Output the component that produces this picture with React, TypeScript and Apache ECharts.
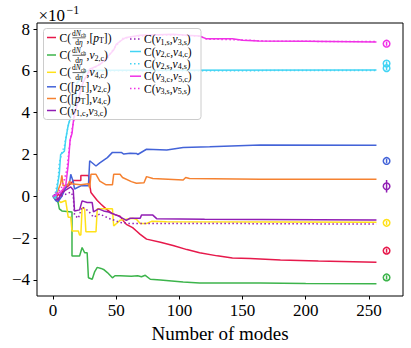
import React, { useEffect, useRef } from "react";
import * as echarts from "echarts";

// ---------- data (values in units of 1e-1) ----------
const xTicks = [0, 50, 100, 150, 200, 250];
const yTicks = [-4, -2, 0, 2, 4, 6, 8];

const redNchPt: number[][] = [[0,0],[2,-0.1],[4,0.1],[6,0.0],[8,0.3],[10,0.4],[12,0.5],[14,0.6],[16,0.75],[22,0.75],[22,1.0],[28,1.0],[29,0.57],[30,0.18],[35,-0.2],[38,-0.38],[42,-0.6],[47,-0.84],[53,-0.95],[56,-1.2],[58,-1.34],[63,-1.5],[66,-1.66],[69,-1.82],[74,-2.05],[85,-2.2],[95,-2.35],[106,-2.55],[116,-2.7],[130,-2.85],[142,-2.95],[156,-2.98],[180,-3.05],[210,-3.1],[256,-3.16]];
const greenNchV2: number[][] = [[0,0],[2,-0.15],[4,-0.3],[5,-0.6],[7,-0.7],[15,-0.75],[15,-2.86],[21,-2.86],[23,-2.45],[25,-2.7],[27,-2.7],[28,-3.9],[31,-3.97],[33,-3.6],[35,-3.4],[38,-3.45],[40,-3.5],[43,-3.65],[47,-3.9],[49,-3.8],[53,-3.8],[62,-3.82],[67,-3.8],[70,-3.85],[73,-3.78],[77,-3.97],[85,-4.0],[103,-4.1],[116,-4.15],[164,-4.15],[200,-4.17],[256,-4.18]];
const yellowNchV4: number[][] = [[0,0],[3,-0.1],[6,-0.3],[10,-0.2],[12,-1.0],[14,-1.0],[15,-1.66],[20,-1.66],[21,-1.85],[22,-1.85],[23,-0.55],[25,-0.6],[26,-1.7],[34,-1.7],[35,-0.6],[47,-0.6],[48,-1.42],[53,-1.15],[63,-1.05],[66,-1.1],[69,-1.3],[74,-1.3],[78,-1.2],[90,-1.22],[256,-1.24]];
const bluePtV2: number[][] = [[0,0],[2,-0.2],[4,-0.25],[7,0.0],[11,0.55],[13,0.6],[14,1.05],[16,0.7],[17,0.35],[22,0.5],[28,0.5],[29,1.7],[34,1.45],[37,1.6],[43,1.85],[47,2.1],[54,2.1],[56,2.02],[61,2.06],[66,2.05],[67,2.0],[74,2.25],[90,2.22],[103,2.33],[124,2.37],[164,2.45],[256,2.44]];
const orangePtV4: number[][] = [[0,0],[2,-0.1],[4,0.3],[6,0.6],[7,1.0],[8,0.5],[12,0.55],[13,0.73],[14,0.6],[22,0.55],[28,0.6],[29,0.4],[30,1.05],[34,1.05],[37,0.73],[42,0.55],[47,0.55],[48,1.05],[53,1.05],[55,0.9],[62,0.7],[66,0.62],[72,0.65],[74,0.94],[79,0.85],[103,0.78],[105,0.9],[108,0.85],[164,0.81],[256,0.81]];
const purpleV1cV3c: number[][] = [[0,0],[2,0.1],[4,-0.2],[6,0.1],[8,0.2],[10,0.3],[14,0.45],[16,0.3],[17,-0.7],[21,-0.65],[23,-0.22],[27,-0.3],[31,-0.3],[32,-0.75],[36,-0.6],[40,-0.7],[44,-0.75],[52,-0.95],[58,-1.15],[61,-1.05],[69,-1.05],[70,-0.9],[79,-0.9],[82,-1.07],[120,-1.1],[256,-1.14]];
const purpleV1sV3s: number[][] = [[0,0],[3,-0.2],[6,0.0],[10,0.1],[14,0.2],[16,0.0],[17,-0.9],[20,-1.05],[23,-0.5],[28,-0.7],[32,-1.0],[37,-0.85],[44,-1.05],[53,-1.25],[60,-1.3],[120,-1.3],[256,-1.33]];
const cyanV2cV4c: number[][] = [[0,0],[2,-0.1],[3,0.3],[5,1.1],[6,2.0],[9,2.16],[10,2.7],[12,3.4],[13.5,3.7],[16,4.3],[18,4.6],[19,5.45],[22,5.6],[25,6.0],[40,6.03],[256,6.04]];
const cyanV2sV4s: number[][] = [[0,0],[2,0.2],[4,0.8],[5,1.6],[7,2.1],[9,2.4],[11,3.1],[13,3.6],[15,4.1],[17,4.8],[19,5.3],[21,5.8],[24,5.95],[40,6.0],[256,6.02]];
const magentaV3cV5c: number[][] = [[0,0],[3,0.1],[6,0.2],[10,0.5],[12,1.5],[13.5,2.7],[15,3.0],[17,4.07],[19,4.3],[21,4.9],[23,5.3],[25,5.6],[27,5.8],[29,6.08],[37,6.3],[42,6.6],[45,6.8],[48,7.0],[50,7.27],[55,7.5],[58,7.6],[69,7.7],[95,7.75],[106,7.7],[116,7.67],[121,7.54],[142,7.54],[150,7.47],[163,7.43],[200,7.42],[256,7.38]];
const magentaV3sV5s: number[][] = [[0,0],[3,0.2],[6,0.3],[9,0.8],[11,1.3],[13,2.4],[15,3.2],[17,3.8],[19,4.5],[21,4.8],[23,5.4],[26,5.7],[30,6.0],[36,6.3],[42,6.5],[46,6.9],[50,7.2],[55,7.55],[60,7.6],[80,7.72],[100,7.72],[116,7.65],[122,7.52],[150,7.48],[170,7.42],[256,7.4]];

// reference points with error bars: [x, value, error]
const markerX = 264;
const markerRed = [[markerX, -2.6, 0.1]];
const markerGreen = [[markerX, -3.88, 0.1]];
const markerYellow = [[markerX, -1.27, 0.1]];
const markerBlue = [[markerX, 1.69, 0.1]];
const markerPurple = [[markerX, 0.48, 0.3]];
const markerCyanC = [[markerX, 6.35, 0.1]];
const markerCyanS = [[markerX, 6.13, 0.1]];
const markerMagenta = [[markerX, 7.3, 0.1]];

const RED = "#e6194b", GREEN = "#3cb44b", YELLOW = "#ffe119", BLUE = "#4363d8",
  ORANGE = "#f58231", PURPLE = "#911eb4", CYAN = "#42d4f4", MAGENTA = "#f032e6";

const SERIF = "Liberation Serif";

const lineSeries = [
  { name: "C(dNch/dη,[pT])", data: redNchPt, color: RED, dotted: false },
  { name: "C(dNch/dη,v2c)", data: greenNchV2, color: GREEN, dotted: false },
  { name: "C(dNch/dη,v4c)", data: yellowNchV4, color: YELLOW, dotted: false },
  { name: "C([pT],v2c)", data: bluePtV2, color: BLUE, dotted: false },
  { name: "C([pT],v4c)", data: orangePtV4, color: ORANGE, dotted: false },
  { name: "C(v1c,v3c)", data: purpleV1cV3c, color: PURPLE, dotted: false },
  { name: "C(v1s,v3s)", data: purpleV1sV3s, color: PURPLE, dotted: true },
  { name: "C(v2c,v4c)", data: cyanV2cV4c, color: CYAN, dotted: false },
  { name: "C(v2s,v4s)", data: cyanV2sV4s, color: CYAN, dotted: true },
  { name: "C(v3c,v5c)", data: magentaV3cV5c, color: MAGENTA, dotted: false },
  { name: "C(v3s,v5s)", data: magentaV3sV5s, color: MAGENTA, dotted: true },
];

const markerSeries = [
  { data: markerRed, color: RED },
  { data: markerGreen, color: GREEN },
  { data: markerYellow, color: YELLOW },
  { data: markerBlue, color: BLUE },
  { data: markerPurple, color: PURPLE },
  { data: markerCyanC, color: CYAN },
  { data: markerCyanS, color: CYAN },
  { data: markerMagenta, color: MAGENTA },
];

const minus = (v: number) => (v < 0 ? "\u2212" + Math.abs(v) : String(v));

const RICH = {
  n: { fontSize: 11.5, fontFamily: SERIF, color: "#000", lineHeight: 10 },
  i: { fontSize: 11.5, fontFamily: SERIF, fontStyle: "italic", color: "#000", lineHeight: 10 },
  s: { fontSize: 8, fontFamily: SERIF, color: "#000", padding: [6, 0, 0, 0], lineHeight: 10 },
  fn: { fontSize: 7.5, fontFamily: SERIF, color: "#000", lineHeight: 7 },
  fi: { fontSize: 7.5, fontFamily: SERIF, fontStyle: "italic", color: "#000", lineHeight: 7 },
  fs: { fontSize: 5.5, fontFamily: SERIF, color: "#000", padding: [4, 0, 0, 0], lineHeight: 7 },
};

const vv = (a: string, b: string) => `{n|C(}{i|v}{s|${a}}{n|,}{i|v}{s|${b}}{n|)}`;
const leftRows = [
  { color: RED, dotted: false, frac: true, tail: "{n|,[}{i|p}{s|T}{n|])}" },
  { color: GREEN, dotted: false, frac: true, tail: "{n|,}{i|v}{s|2,c}{n|)}" },
  { color: YELLOW, dotted: false, frac: true, tail: "{n|,}{i|v}{s|4,c}{n|)}" },
  { color: BLUE, dotted: false, frac: false, tail: "{n|C([}{i|p}{s|T}{n|],}{i|v}{s|2,c}{n|)}" },
  { color: ORANGE, dotted: false, frac: false, tail: "{n|C([}{i|p}{s|T}{n|],}{i|v}{s|4,c}{n|)}" },
  { color: PURPLE, dotted: false, frac: false, tail: vv("1,c", "3,c") },
];
const leftRowY = [37.5, 55, 72.3, 86.8, 98.5, 110.5];
const rightRows = [
  { color: PURPLE, dotted: true, tail: vv("1,s", "3,s") },
  { color: CYAN, dotted: false, tail: vv("2,c", "4,c") },
  { color: CYAN, dotted: true, tail: vv("2,s", "4,s") },
  { color: MAGENTA, dotted: false, tail: vv("3,c", "5,c") },
  { color: MAGENTA, dotted: true, tail: vv("3,s", "5,s") },
];
const rightRowY = [39, 51.5, 63.8, 76.2, 88.6];

function buildLegend(): any[] {
  const els: any[] = [];
  els.push({
    type: "rect", z: 100,
    shape: { x: 43.5, y: 28.5, width: 157.5, height: 91, r: 3 },
    style: { fill: "rgba(255,255,255,0.8)", stroke: "#cccccc", lineWidth: 1 },
  });
  const handle = (x1: number, x2: number, y: number, color: string, dotted: boolean) => ({
    type: "line", z: 101,
    shape: { x1, y1: y, x2, y2: y },
    style: { stroke: color, lineWidth: 1.5, lineDash: dotted ? [1.5, 2.5] : null },
  });
  leftRows.forEach((r, k) => {
    const y = leftRowY[k];
    els.push(handle(47, 56, y, r.color, r.dotted));
    if (r.frac) {
      els.push({ type: "text", z: 101, style: { text: "{n|C(}", rich: RICH, x: 59.5, y, verticalAlign: "middle" } });
      els.push({ type: "text", z: 101, style: { text: "{fn|d}{fi|N}{fs|ch}", rich: RICH, x: 79, y: y - 4.4, align: "center", verticalAlign: "middle" } });
      els.push({ type: "line", z: 101, shape: { x1: 72.5, y1: y + 0.3, x2: 85.5, y2: y + 0.3 }, style: { stroke: "#000", lineWidth: 0.6 } });
      els.push({ type: "text", z: 101, style: { text: "{fn|d}{fi|η}", rich: RICH, x: 79, y: y + 5, align: "center", verticalAlign: "middle" } });
      els.push({ type: "text", z: 101, style: { text: r.tail, rich: RICH, x: 86.5, y, verticalAlign: "middle" } });
    } else {
      els.push({ type: "text", z: 101, style: { text: r.tail, rich: RICH, x: 59.5, y, verticalAlign: "middle" } });
    }
  });
  rightRows.forEach((r, k) => {
    const y = rightRowY[k];
    els.push(handle(130, 141, y, r.color, r.dotted));
    els.push({ type: "text", z: 101, style: { text: r.tail, rich: RICH, x: 144, y, verticalAlign: "middle" } });
  });
  els.push({ type: "text", z: 101, style: { text: "×10", x: 38.5, y: 15.5, fontSize: 17, fontFamily: SERIF, fill: "#000", verticalAlign: "middle" } });
  els.push({ type: "text", z: 101, style: { text: "\u22121", x: 66.5, y: 10, fontSize: 12, fontFamily: SERIF, fill: "#000", verticalAlign: "middle" } });
  return els;
}

export default function App() {
  const ref = useRef<HTMLDivElement>(null);
  useEffect(() => {
    document.body.style.margin = "0";
    const chart = echarts.init(ref.current!, null, { renderer: "svg" });
    const series: any[] = lineSeries.map((s, k) => ({
      type: "line",
      name: s.name,
      data: s.data,
      showSymbol: false,
      symbol: "none",
      z: 2 + k * 0.01,
      lineStyle: { color: s.color, width: 1.5, type: s.dotted ? [1.5, 2.5] : "solid" },
      itemStyle: { color: s.color },
    }));
    markerSeries.forEach((m) => {
      series.push({
        type: "custom",
        data: m.data,
        z: 3,
        renderItem: (_p: any, api: any) => {
          const x = api.value(0), y = api.value(1), e = api.value(2);
          const c = api.coord([x, y]);
          const t = api.coord([x, y + e]);
          const b = api.coord([x, y - e]);
          return {
            type: "group",
            children: [
              { type: "line", shape: { x1: c[0], y1: t[1], x2: c[0], y2: b[1] }, style: { stroke: m.color, lineWidth: 1.5 } },
              { type: "circle", shape: { cx: c[0], cy: c[1], r: 3.3 }, style: { fill: "none", stroke: m.color, lineWidth: 1.5 } },
            ],
          };
        },
      });
    });
    chart.setOption({
      animation: false,
      backgroundColor: "#fff",
      textStyle: { fontFamily: SERIF },
      grid: { left: 37, top: 23, right: 8, bottom: 52, show: true, borderColor: "#000", borderWidth: 1, backgroundColor: "transparent" },
      xAxis: {
        type: "value", min: -12.7, max: 277,
        axisLine: { show: false, onZero: false },
        splitLine: { show: false },
        axisTick: { show: true, inside: false, length: 3.5, lineStyle: { color: "#000", width: 1 }, customValues: xTicks },
        axisLabel: { color: "#000", fontSize: 17, fontFamily: SERIF, margin: 6, customValues: xTicks, formatter: (v: number) => minus(v) },
        name: "Number of modes",
        nameLocation: "middle",
        nameGap: 27,
        nameTextStyle: { color: "#000", fontSize: 19, fontFamily: SERIF },
      },
      yAxis: {
        type: "value", min: -4.77, max: 8.29,
        axisLine: { show: false, onZero: false },
        splitLine: { show: false },
        axisTick: { show: true, inside: false, length: 3.5, lineStyle: { color: "#000", width: 1 }, customValues: yTicks },
        axisLabel: { color: "#000", fontSize: 17, fontFamily: SERIF, margin: 7, customValues: yTicks, formatter: (v: number) => minus(v) },
      },
      graphic: buildLegend(),
      series,
    });
    return () => chart.dispose();
  }, []);
  return <div ref={ref} style={{ width: 411, height: 348 }} />;
}
